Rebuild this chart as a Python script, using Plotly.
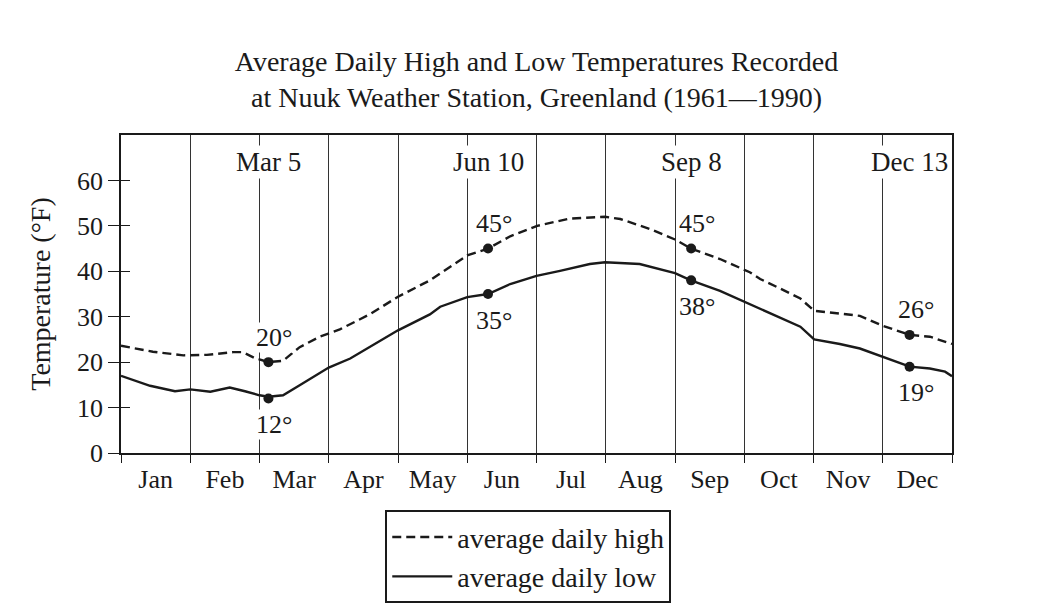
import plotly.graph_objects as go

# ---- data (x in month units: 0 = Jan 1, 12 = Dec 31) ----
months = ["Jan", "Feb", "Mar", "Apr", "May", "Jun", "Jul", "Aug", "Sep", "Oct", "Nov", "Dec"]
month_days = [31, 28, 31, 30, 31, 30, 31, 31, 30, 31, 30, 31]

high_x = [0.00, 0.46, 0.90, 1.24, 1.62, 1.76, 1.93, 2.13, 2.34, 2.58, 2.87, 3.16, 3.60,
          4.00, 4.46, 4.90, 5.00, 5.30, 5.62, 6.01, 6.48, 6.99, 7.21, 7.64, 8.00, 8.23,
          8.65, 9.08, 9.23, 9.52, 9.81, 10.01, 10.24, 10.67, 11.00, 11.19, 11.39, 11.68, 12.00]
high_y = [23.6, 22.3, 21.5, 21.6, 22.2, 22.2, 20.9, 20.0, 20.3, 23.3, 25.6, 27.2, 30.6,
          34.4, 38.0, 42.5, 43.5, 45.0, 47.7, 50.0, 51.6, 52.0, 51.5, 49.3, 47.0, 45.0,
          42.7, 39.8, 38.3, 36.2, 34.0, 31.3, 30.9, 30.2, 28.0, 27.0, 26.0, 25.6, 24.0]

low_x = [0.00, 0.42, 0.78, 1.00, 1.29, 1.57, 1.79, 2.00, 2.13, 2.34, 2.58, 2.87, 3.00,
         3.31, 3.60, 4.00, 4.46, 4.61, 5.00, 5.30, 5.62, 6.00, 6.34, 6.77, 6.99, 7.49,
         8.00, 8.23, 8.65, 9.08, 9.36, 9.81, 10.01, 10.38, 10.67, 11.00, 11.39, 11.68, 11.90, 12.00]
low_y = [17.0, 14.8, 13.6, 14.0, 13.5, 14.4, 13.6, 12.7, 12.4, 12.7, 14.9, 17.5, 18.8,
         20.8, 23.4, 27.0, 30.5, 32.2, 34.3, 35.0, 37.2, 39.0, 40.1, 41.6, 42.0, 41.6,
         39.6, 38.0, 35.7, 32.8, 31.0, 27.8, 25.0, 24.0, 23.0, 21.2, 19.0, 18.6, 17.9, 16.9]

event_labels = ["Mar 5", "Jun 10", "Sep 8", "Dec 13"]
event_month = [2, 5, 8, 11]
event_day = [5, 10, 8, 13]
event_high = [20, 45, 45, 26]
event_low = [12, 35, 38, 19]

y_ticks = [0, 10, 20, 30, 40, 50, 60]

event_x = [m + (d - 1) / month_days[m] for m, d in zip(event_month, event_day)]

FONT = "Liberation Serif"
INK = "#1a1a1a"

fig = go.Figure()
fig.add_trace(go.Scatter(x=high_x, y=high_y, mode="lines", name="average daily high",
                         line=dict(color=INK, width=2.4, dash="9px,5px")))
fig.add_trace(go.Scatter(x=low_x, y=low_y, mode="lines", name="average daily low",
                         line=dict(color=INK, width=2.4)))
fig.add_trace(go.Scatter(x=event_x + event_x, y=event_high + event_low, mode="markers",
                         marker=dict(color=INK, size=10), showlegend=False, hoverinfo="skip"))
# dummy trace to create overlay axes
fig.add_trace(go.Scatter(x=[None], y=[None], xaxis="x2", yaxis="y2", showlegend=False,
                         hoverinfo="skip"))

annotations = []
for ex, lab in zip(event_x, event_labels):
    annotations.append(dict(x=ex, y=64, xref="x", yref="y", text=lab, showarrow=False,
                            bgcolor="white", font=dict(family=FONT, size=27, color=INK),
                            borderpad=1))


def label_bg(ex):
    # white backing only where the label sits over a month gridline
    return "white" if abs(ex - round(ex)) < 0.2 else "rgba(0,0,0,0)"


for ex, v in zip(event_x, event_high):
    annotations.append(dict(x=ex, y=v, xref="x", yref="y", text=f"{v}°", showarrow=False,
                            bgcolor=label_bg(ex), yshift=25, xshift=6,
                            font=dict(family=FONT, size=26, color=INK), borderpad=0))
for ex, v in zip(event_x, event_low):
    annotations.append(dict(x=ex, y=v, xref="x", yref="y", text=f"{v}°", showarrow=False,
                            bgcolor=label_bg(ex), yshift=-26, xshift=6,
                            font=dict(family=FONT, size=26, color=INK), borderpad=0))

fig.update_layout(
    width=1041, height=615,
    margin=dict(l=121, r=89, t=135, b=160),
    paper_bgcolor="white", plot_bgcolor="white",
    font=dict(family=FONT, color=INK, size=26),
    title=dict(text="Average Daily High and Low Temperatures Recorded<br>at Nuuk Weather Station, Greenland (1961—1990)",
               x=0.5, xref="paper", xanchor="center", y=0.885, yanchor="top",
               font=dict(family=FONT, size=28, color=INK)),
    xaxis=dict(range=[0, 12], tickvals=list(range(13)), showticklabels=False,
               ticks="outside", ticklen=8, tickcolor=INK, tickwidth=1.3,
               showgrid=True, gridcolor="#333", gridwidth=1.2,
               showline=True, linecolor=INK, linewidth=1.5, mirror=True, zeroline=False),
    xaxis2=dict(range=[0, 12], overlaying="x", matches="x", side="bottom",
                tickvals=[i + 0.5 for i in range(12)], ticktext=months, ticks="",
                showgrid=False, showline=False, zeroline=False, ticklabelstandoff=8,
                tickfont=dict(family=FONT, size=26, color=INK)),
    yaxis=dict(range=[0, 70], tickvals=y_ticks, ticks="outside", ticklen=11, tickcolor=INK,
               tickwidth=1.3, showgrid=False, showline=True, linecolor=INK, linewidth=1.5,
               mirror=True, zeroline=False, tickfont=dict(family=FONT, size=26, color=INK),
               title=dict(text="Temperature (°F)", font=dict(family=FONT, size=28, color=INK),
                          standoff=18)),
    yaxis2=dict(range=[0, 70], overlaying="y", matches="y", side="left", tickvals=y_ticks,
                ticks="inside", ticklen=9, tickcolor=INK, tickwidth=1.3, showticklabels=False,
                showgrid=False, showline=False, zeroline=False),
    legend=dict(x=0.318, y=-0.18, xanchor="left", yanchor="top", orientation="v",
                bordercolor=INK, borderwidth=2, bgcolor="white", itemwidth=60,
                font=dict(family=FONT, size=28, color=INK), tracegroupgap=0),
    annotations=annotations,
    showlegend=True,
)

fig.write_html("out.html")
